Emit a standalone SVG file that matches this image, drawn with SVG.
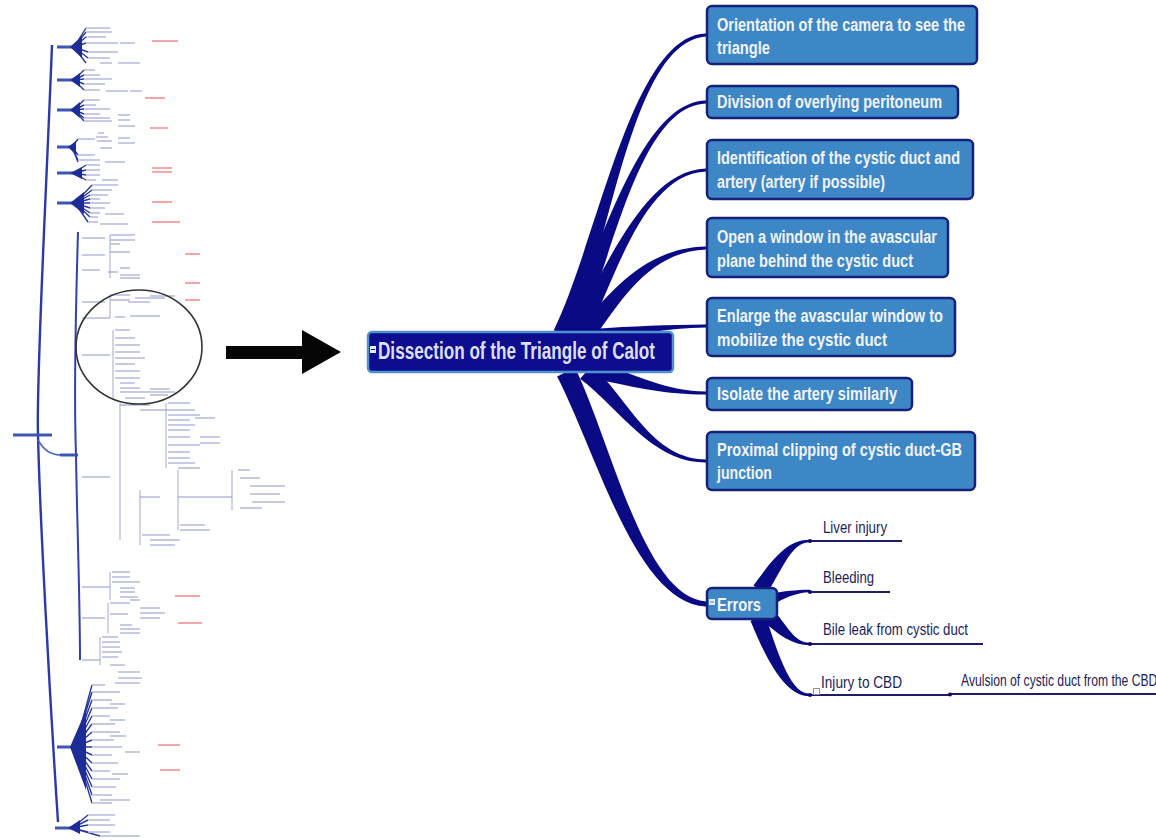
<svg xmlns="http://www.w3.org/2000/svg" width="1156" height="840" viewBox="0 0 1156 840">
<defs>
<style>
.box{fill:#3e87c6;stroke:#16207a;stroke-width:2.5}
.bt{font-family:"Liberation Sans",Arial,sans-serif;font-weight:bold;font-size:18px;fill:#f2f4fb}
.lt{font-family:"Liberation Sans",Arial,sans-serif;font-size:16px;fill:#1c1c5c}
.con{fill:#0a0a84}
.uline{stroke:#1c1c6c;stroke-width:2;fill:none}
.dot{fill:#0a0a60}
.thumb-item{stroke:#b2badf;stroke-width:1.6;fill:none}
.thumb-red{stroke:#f28a8a;stroke-width:1.4;fill:none}
.thumb-br{stroke:#8a92c8;stroke-width:0.8;fill:none}
.thumb-ray{stroke:#2a38a0;stroke-width:1.4;fill:none}
.thumb-bar{stroke:#3d55b5;stroke-width:3;fill:none}
</style>
</defs>
<rect width="1156" height="840" fill="#ffffff"/>

<!-- Thumbnail overview mind map -->
<g id="thumbnail">
  <path d="M52,45 C46,200 36,380 38,435 C40,520 50,700 58,822" stroke="#2c3aa8" stroke-width="2.4" fill="none"/>
  <path d="M38,440 C45,452 52,455 62,455" stroke="#4a68c0" stroke-width="1.5" fill="none"/>
  <path d="M78,232 C76,300 74,400 76,455 C77,520 80,600 80,660" stroke="#3040b0" stroke-width="2" fill="none"/>
  <path d="M13,435 H52" class="thumb-bar"/>
  <path d="M60,455 H78" class="thumb-bar" stroke="#5a88d0"/>
  <path class="thumb-bar" d="M57,47 H75 M57,80 H74 M57,110 H74 M57,147 H72 M57,173 H74 M57,203 H75 M57,747 H75 M55,828 H72"/>
  <path class="thumb-ray" d="M74,47 L86,28 M74,47 L86,32 M74,47 L86,37 M74,47 L86,43 M74,47 L88,52 M74,47 L88,58 M74,47 L86,63
  M74,80 L84,70 M74,80 L84,75 M74,80 L84,79 M74,80 L84,84 M74,80 L84,90
  M74,110 L84,100 M74,110 L84,105 M74,110 L84,109 M74,110 L84,114 M74,110 L84,118 M74,110 L84,121
  M72,147 L78,139 M72,147 L78,155 M72,147 L78,160 M72,147 L78,162
  M74,173 L86,165 M74,173 L86,170 M74,173 L86,175 M74,173 L86,180
  M75,203 L92,185 M75,203 L92,190 M75,203 L90,195 M75,203 L90,199 M75,203 L90,203 M75,203 L90,208 M75,203 L90,213 M75,203 L90,217 M75,203 L88,222
  M75,747 L92,685 M75,747 L92,692 M75,747 L92,700 M75,747 L92,708 M75,747 L92,716 M75,747 L92,724 M75,747 L92,732 M75,747 L92,740 M75,747 L92,747 M75,747 L92,755 M75,747 L92,763 M75,747 L92,771 M75,747 L92,779 M75,747 L92,787 M75,747 L92,795 M75,747 L92,803
  M72,828 L88,815 M72,828 L88,820 M72,828 L88,825 M72,828 L88,832 M72,828 L100,836"/>
  <path fill="#1e2c98" d="M70,47 L82,36 L82,58 Z M70,80 L80,73 L80,87 Z M70,110 L80,102 L80,118 Z M68,147 L76,141 L76,155 Z M70,173 L82,167 L82,179 Z M70,203 L84,192 L84,214 Z M70,747 L86,710 L86,790 Z M68,828 L80,820 L80,834 Z"/>
  <path class="thumb-item" d="M86,28 H110 M86,32 H112 M86,37 H106 M86,43 H118 M120,43 H135 M88,52 H118 M88,58 H110 M100,63 H112 M118,63 H140
  M84,70 H95 M84,75 H100 M84,79 H112 M84,84 H105 M84,90 H100 M106,91 H128 M130,91 H142
  M84,100 H100 M84,105 H96 M84,109 H110 M84,114 H100 M84,118 H110 M84,121 H112 M118,115 H130 M118,120 H130 M118,126 H135
  M98,133 H104 M96,137 H108 M78,139 H95 M97,141 H112 M118,138 H130 M118,143 H135 M100,148 H112 M78,155 H95 M78,160 H100 M105,162 H125
  M86,165 H100 M86,170 H100 M86,175 H100 M86,180 H96 M102,180 H118
  M92,185 H118 M92,190 H112 M90,195 H108 M90,199 H100 M90,203 H110 M90,208 H105 M90,213 H100 M90,217 H98 M105,214 H124 M88,222 H98 M100,224 H128
  M82,238 H105 M110,235 H135 M110,240 H135 M82,255 H105 M110,244 H120 M110,252 H130 M82,270 H100 M108,272 H118 M120,268 H130 M120,275 H140 M120,278 H140
  M82,302 H105 M110,295 H130 M110,300 H130 M128,302 H150 M135,298 H165 M150,296 H175 M82,318 H110 M115,317 H125 M130,316 H160
  M82,355 H110 M115,330 H130 M115,338 H135 M115,345 H140 M115,352 H140 M115,358 H145 M115,364 H135 M115,371 H140 M115,378 H140 M120,383 H135 M120,388 H140 M120,392 H175 M125,398 H145 M150,389 H170 M150,395 H168 M120,405 H150
  M140,410 H168 M168,403 H190 M168,410 H195 M168,415 H200 M168,420 H190 M168,425 H195 M168,430 H190 M168,437 H190 M195,418 H215 M168,445 H200 M200,437 H220 M200,443 H220 M168,452 H190 M168,458 H190 M168,463 H195 M178,468 H200
  M82,477 H110 M140,497 H160 M178,497 H200 M200,497 H232 M238,470 H250 M240,478 H260 M250,486 H285 M250,494 H280 M252,502 H285 M240,508 H262 M180,525 H205 M180,530 H210 M142,535 H170 M150,540 H180 M150,545 H175
  M82,587 H110 M112,572 H130 M112,577 H130 M112,582 H140 M120,588 H135 M120,592 H135 M120,597 H138 M130,600 H140
  M82,618 H105 M110,603 H130 M110,614 H128 M140,608 H160 M140,613 H165 M140,618 H160 M120,625 H132 M120,629 H140 M120,633 H140
  M82,660 H100 M102,637 H118 M102,642 H120 M102,647 H120 M102,652 H122 M102,657 H118 M110,665 H125 M118,672 H140 M118,678 H142 M115,683 H140
  M92,685 H105 M92,692 H120 M92,700 H112 M110,704 H125 M92,708 H118 M92,716 H110 M110,720 H125 M92,724 H115 M92,732 H120 M110,736 H126 M92,740 H114 M92,747 H122 M92,755 H112 M125,752 H140 M92,763 H118 M92,771 H110 M112,774 H128 M92,779 H120 M92,787 H116 M92,795 H112 M100,800 H130 M92,803 H112
  M88,815 H115 M88,820 H110 M88,825 H115 M88,832 H110 M100,836 H140"/>
  <path class="thumb-br" d="M120,403 V540 M140,490 V545 M178,470 V530 M232,470 V510 M110,235 V278 M110,295 V318 M113,330 V400 M166,403 V468 M110,572 V600 M108,603 V633 M100,637 V665"/>
  <path class="thumb-red" d="M152,41 H178 M145,98 H165 M150,128 H168 M152,168 H172 M152,172 H172 M152,202 H172 M152,222 H180 M185,254 H200 M185,283 H200 M185,300 H200 M175,596 H200 M178,623 H202 M158,745 H180 M160,770 H180"/>
  <ellipse cx="139" cy="347" rx="63" ry="57" fill="none" stroke="#333333" stroke-width="1.6"/>
</g>

<!-- Big arrow -->
<g id="pointer-arrow">
  <path d="M226,346 H302 V330 L341,352 L302,374 V359 H226 Z" fill="#050505"/>
</g>

<!-- Connectors -->
<g id="connectors">
  <path class="con" d="M570.2,337.8 C611,243 632,41 706,36.5 L706,33.5 C632,35 599,237 553.8,330.2 Z"/>
  <path class="con" d="M578.2,337.7 C614,253 640,106 706,103.5 L706,100.5 C640,102 602,247 561.8,330.3 Z"/>
  <path class="con" d="M585.9,338.2 C617,273 645,174 706,171.5 L706,168.5 C645,170 607,267 570.1,329.8 Z"/>
  <path class="con" d="M593.1,339.5 C625,294 652,252 706,249.5 L706,246.5 C648,248 615,286 578.9,328.5 Z"/>
  <path class="con" d="M592,343 C635,335 665,328 706,327.5 L706,324.5 C665,325 635,326 592,329 Z"/>
  <path class="con" d="M594.1,378.8 C638,388 665,394.5 706,394.5 L706,391.5 C665,391 642,376 597.9,363.2 Z"/>
  <path class="con" d="M580.1,378.8 C621,410 652,462.5 706,462.5 L706,459.5 C652,459 629,400 591.9,365.2 Z"/>
  <path class="con" d="M557.1,376.5 C598,456 636,603 706,606.5 L706,601.5 C644,597 612,444 574.9,367.5 Z"/>
  <path class="con" d="M766.6,594.4 C785,564 792,542.5 810,542.2 L810,539.8 C788,540 775,556 753.4,585.6 Z"/>
  <path class="con" d="M770,606 C785,598 795,592.5 810,592.2 L810,589.8 C795,590 785,591 770,594 Z"/>
  <path class="con" d="M759.2,617.5 C778,635 792,645.3 810,645.2 L810,642.8 C794,643 787,625 770.8,606.5 Z"/>
  <path class="con" d="M750.5,620.7 C770,669 788,696.3 810,696.2 L810,693.8 C792,694 780,661 765.5,615.3 Z"/>
  <path class="uline" d="M810,541 H902 M810,592 H890 M810,644 H983 M810,695 H950 M950,694 H1156"/>
  <circle class="dot" cx="810" cy="541" r="2"/>
  <circle class="dot" cx="810" cy="592" r="2"/>
  <circle class="dot" cx="810" cy="644" r="2"/>
  <circle class="dot" cx="810" cy="695" r="2"/>
  <circle class="dot" cx="950" cy="694.5" r="2"/>
</g>

<!-- Central node -->
<g id="node-center">
  <rect x="368" y="332" width="305" height="40" rx="4" fill="#0d0d8e" stroke="#4f92d2" stroke-width="2.5"/>
  <rect x="370" y="346" width="6" height="7" fill="#e8ecfa"/>
  <path d="M371,349.5 H375" stroke="#0d0d8e" stroke-width="1"/>
  <text x="378" y="359" font-family="Liberation Sans, Arial, sans-serif" font-weight="bold" font-size="23" fill="#dedff6" textLength="277" lengthAdjust="spacingAndGlyphs">Dissection of the Triangle of Calot</text>
</g>

<g id="node-orientation">
  <rect class="box" x="707" y="6" width="270" height="58" rx="5"/>
  <text class="bt" x="717" y="31" textLength="248" lengthAdjust="spacingAndGlyphs">Orientation of the camera to see the</text>
  <text class="bt" x="717" y="54" textLength="53" lengthAdjust="spacingAndGlyphs">triangle</text>
</g>
<g id="node-division">
  <rect class="box" x="707" y="86" width="251" height="32" rx="5"/>
  <text class="bt" x="717" y="108" textLength="225" lengthAdjust="spacingAndGlyphs">Division of overlying peritoneum</text>
</g>
<g id="node-identification">
  <rect class="box" x="707" y="140" width="266" height="59" rx="5"/>
  <text class="bt" x="717" y="164" textLength="243" lengthAdjust="spacingAndGlyphs">Identification of the cystic duct and</text>
  <text class="bt" x="717" y="188" textLength="168" lengthAdjust="spacingAndGlyphs">artery (artery if possible)</text>
</g>
<g id="node-open-window">
  <rect class="box" x="707" y="218" width="241" height="59" rx="5"/>
  <text class="bt" x="717" y="243" textLength="220" lengthAdjust="spacingAndGlyphs">Open a window in the avascular</text>
  <text class="bt" x="717" y="267" textLength="196" lengthAdjust="spacingAndGlyphs">plane behind the cystic duct</text>
</g>
<g id="node-enlarge">
  <rect class="box" x="707" y="298" width="248" height="58" rx="5"/>
  <text class="bt" x="717" y="322" textLength="226" lengthAdjust="spacingAndGlyphs">Enlarge the avascular window to</text>
  <text class="bt" x="717" y="346" textLength="170" lengthAdjust="spacingAndGlyphs">mobilize the cystic duct</text>
</g>
<g id="node-isolate">
  <rect class="box" x="707" y="378" width="205" height="32" rx="5"/>
  <text class="bt" x="717" y="400" textLength="180" lengthAdjust="spacingAndGlyphs">Isolate the artery similarly</text>
</g>
<g id="node-proximal">
  <rect class="box" x="707" y="432" width="268" height="58" rx="5"/>
  <text class="bt" x="717" y="456" textLength="245" lengthAdjust="spacingAndGlyphs">Proximal clipping of cystic duct-GB</text>
  <text class="bt" x="717" y="479" textLength="55" lengthAdjust="spacingAndGlyphs">junction</text>
</g>
<g id="node-errors">
  <rect class="box" x="707" y="588" width="70" height="31" rx="5"/>
  <rect x="709" y="599" width="6" height="6" fill="#e8ecfa"/>
  <path d="M710,602 H714" stroke="#3e87c6" stroke-width="1"/>
  <text class="bt" x="717" y="611" textLength="44" lengthAdjust="spacingAndGlyphs">Errors</text>
</g>

<g id="node-liver">
  <text class="lt" x="823" y="533" textLength="64" lengthAdjust="spacingAndGlyphs">Liver injury</text>
</g>
<g id="node-bleeding">
  <text class="lt" x="823" y="583" textLength="51" lengthAdjust="spacingAndGlyphs">Bleeding</text>
</g>
<g id="node-bile">
  <text class="lt" x="823" y="635" textLength="145" lengthAdjust="spacingAndGlyphs">Bile leak from cystic duct</text>
</g>
<g id="node-cbd">
  <rect x="813.5" y="688.5" width="6" height="6" fill="#ffffff" stroke="#8890b0" stroke-width="1"/>
  <text class="lt" x="821" y="688" textLength="81" lengthAdjust="spacingAndGlyphs">Injury to CBD</text>
</g>
<g id="node-avulsion">
  <text class="lt" font-size="14" transform="translate(961,686) scale(0.76,1)">Avulsion of cystic duct from the CBD</text>
</g>
</svg>
